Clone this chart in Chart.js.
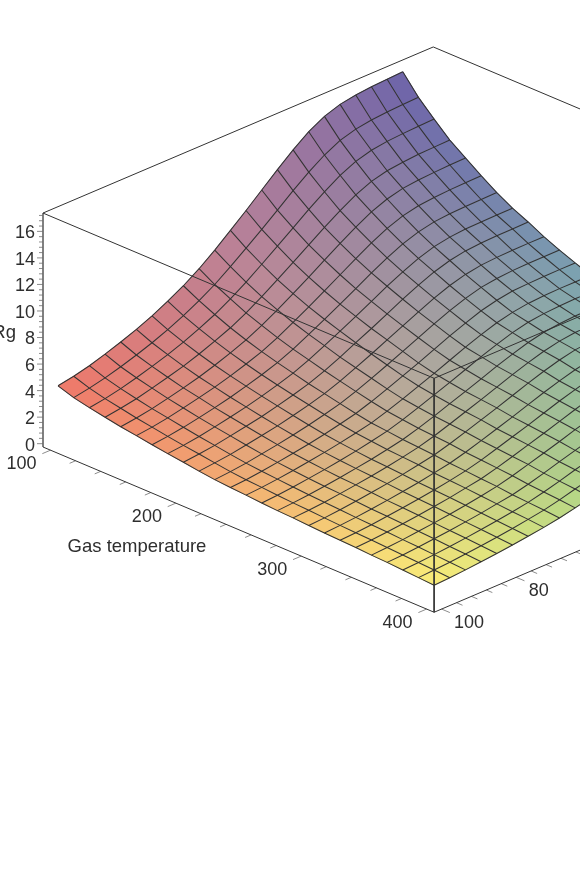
<!DOCTYPE html>
<html>
<head>
<meta charset="utf-8">
<title>Rg surface</title>
<script src="https://cdn.jsdelivr.net/npm/chart.js@4"></script>
<style>
html, body { margin: 0; padding: 0; background: #fff; overflow: hidden; }
canvas { display: block; }
</style>
</head>
<body>
<canvas id="surface" width="580" height="872"></canvas>
<script>
// grid lines of the surface
var gasTemperature = [106, 118.5, 131, 143.5, 156, 168.5, 181, 193.5, 206, 218.5, 231, 243.5, 256, 268.5, 281, 293.5, 306, 318.5, 331, 343.5, 356, 368.5, 381, 393.5, 406];
var pressure = [102, 97.8, 93.6, 89.4, 85.2, 81, 76.8, 72.6, 68.4, 64.2, 60, 55.8, 51.6, 47.4, 43.2, 39, 34.8, 30.6, 26.4, 22.2, 18, 13.8, 9.6];

// one row per gas temperature, one value per pressure. Rows stop just past the right edge of the picture
var rgRows = [
    [4.84, 5.06, 5.35, 5.72, 6.13, 6.58, 7.10, 7.70, 8.36, 9.14, 10.04, 11.02, 12.02, 13.06, 14.10, 15.08, 15.95, 16.60, 17.00, 17.20, 17.32, 17.39, 17.45],
    [4.45, 4.66, 4.93, 5.27, 5.65, 6.07, 6.56, 7.11, 7.73, 8.45, 9.29, 10.18, 11.10, 12.05, 13.01, 13.90, 14.69, 15.29, 15.64, 15.82, 15.92, 15.98, 16.02],
    [4.19, 4.37, 4.62, 4.94, 5.29, 5.67, 6.11, 6.63, 7.19, 7.86, 8.63, 9.47, 10.33, 11.21, 12.10, 12.92, 13.66, 14.21, 14.54, 14.71, 14.79, 14.85, 14.88],
    [3.97, 4.14, 4.36, 4.65, 4.97, 5.31, 5.72, 6.18, 6.69, 7.31, 8.03, 8.81, 9.60, 10.42, 11.24, 12.00, 12.69, 13.20, 13.50, 13.64, 13.73, 13.77, 13.80],
    [3.75, 3.91, 4.11, 4.38, 4.67, 4.99, 5.37, 5.80, 6.27, 6.86, 7.53, 8.25, 9.00, 9.77, 10.53, 11.26, 11.90, 12.37, 12.67, 12.80, 12.87, 12.92, 12.95],
    [3.58, 3.72, 3.91, 4.16, 4.43, 4.72, 5.07, 5.46, 5.89, 6.44, 7.08, 7.76, 8.45, 9.17, 9.88, 10.56, 11.16, 11.60, 11.86, 11.98, 12.05, 12.09, 12.11],
    [3.39, 3.52, 3.70, 3.93, 4.18, 4.46, 4.79, 5.15, 5.56, 6.08, 6.68, 7.32, 7.96, 8.63, 9.31, 9.94, 10.49, 10.89, 11.14, 11.25, 11.30, 11.32, 11.34],
    [3.22, 3.34, 3.51, 3.73, 3.97, 4.23, 4.54, 4.88, 5.27, 5.76, 6.33, 6.92, 7.54, 8.16, 8.80, 9.38, 9.90, 10.28, 10.49, 10.60, 10.63, 10.65, 10.66],
    [3.07, 3.19, 3.34, 3.55, 3.77, 4.01, 4.30, 4.62, 4.97, 5.44, 5.97, 6.55, 7.12, 7.72, 8.32, 8.88, 9.37, 9.73, 9.95, 10.04, 10.09, 10.10, 10.12],
    [2.90, 3.02, 3.16, 3.36, 3.57, 3.80, 4.08, 4.38, 4.72, 5.16, 5.67, 6.20, 6.76, 7.31, 7.87, 8.40, 8.85, 9.18, 9.38, 9.46, 9.49, 9.51, 9.51],
    [2.76, 2.86, 3.00, 3.19, 3.39, 3.61, 3.86, 4.15, 4.47, 4.89, 5.37, 5.87, 6.39, 6.92, 7.46, 7.95, 8.38, 8.70, 8.87, 8.96, 8.99, 9.00, 9.00],
    [2.66, 2.75, 2.88, 3.05, 3.23, 3.43, 3.66, 3.93, 4.22, 4.62, 5.07, 5.55, 6.03, 6.54, 7.05, 7.52, 7.94, 8.23, 8.42, 8.48, 8.52, 8.53, 8.53],
    [2.59, 2.67, 2.79, 2.94, 3.11, 3.30, 3.51, 3.75, 4.01, 4.39, 4.82, 5.28, 5.74, 6.22, 6.70, 7.15, 7.54, 7.82, 7.99, 8.07, 8.10, 8.10, 8.11],
    [2.49, 2.58, 2.69, 2.84, 3.00, 3.18, 3.39, 3.63, 3.89, 4.25, 4.67, 5.11, 5.55, 6.02, 6.49, 6.91, 7.29, 7.57, 7.72, 7.79, 7.83, 7.83, 7.84],
    [2.42, 2.50, 2.61, 2.75, 2.91, 3.09, 3.28, 3.51, 3.76, 4.11, 4.52, 4.95, 5.37, 5.82, 6.27, 6.68, 7.05, 7.32, 7.46, 7.53, 7.57, 7.58],
    [2.37, 2.45, 2.55, 2.69, 2.85, 3.02, 3.21, 3.43, 3.68, 4.02, 4.42, 4.84, 5.25, 5.69, 6.13, 6.53, 6.89, 7.15, 7.29, 7.36, 7.40],
    [2.30, 2.37, 2.48, 2.62, 2.77, 2.94, 3.13, 3.36, 3.59, 3.93, 4.32, 4.73, 5.13, 5.56, 5.99, 6.38, 6.73, 6.99, 7.12, 7.19],
    [2.23, 2.30, 2.40, 2.53, 2.68, 2.84, 3.02, 3.24, 3.47, 3.79, 4.17, 4.56, 4.95, 5.37, 5.78, 6.15, 6.49, 6.74, 6.89],
    [2.18, 2.25, 2.35, 2.48, 2.62, 2.78, 2.95, 3.16, 3.39, 3.70, 4.07, 4.45, 4.83, 5.24, 5.64, 6.00, 6.33, 6.57],
    [2.13, 2.20, 2.30, 2.42, 2.56, 2.71, 2.88, 3.09, 3.30, 3.61, 3.97, 4.34, 4.71, 5.11, 5.50, 5.85, 6.17],
    [2.06, 2.13, 2.22, 2.35, 2.48, 2.63, 2.80, 3.00, 3.22, 3.52, 3.87, 4.23, 4.59, 4.98, 5.36, 5.72],
    [2.01, 2.07, 2.16, 2.28, 2.41, 2.55, 2.71, 2.90, 3.09, 3.38, 3.71, 4.07, 4.42, 4.79, 5.16],
    [1.94, 2.00, 2.09, 2.20, 2.33, 2.47, 2.63, 2.81, 3.01, 3.29, 3.61, 3.96, 4.30, 4.66],
    [1.86, 1.93, 2.01, 2.13, 2.25, 2.39, 2.55, 2.73, 2.93, 3.20, 3.51, 3.85, 4.18],
    [1.79, 1.85, 1.94, 2.05, 2.17, 2.30, 2.46, 2.63, 2.83, 3.09, 3.39, 3.71]
];

// axis ticks
var tempTicks = [100, 120, 140, 160, 180, 200, 220, 240, 260, 280, 300, 320, 340, 360, 380, 400];
var tempLabels = [100, 200, 300, 400];
var pressureTicks = [100, 96, 92, 88, 84, 80, 76, 72, 68, 64, 60];
var pressureLabels = [100, 80];
var rgTicks = [0, 0.4, 0.8, 1.2, 1.6, 2, 2.4, 2.8, 3.2, 3.6, 4, 4.4, 4.8, 5.2, 5.6, 6, 6.4, 6.8, 7.2, 7.6, 8, 8.4, 8.8, 9.2, 9.6, 10, 10.4, 10.8, 11.2, 11.6, 12, 12.4, 12.8, 13.2, 13.6, 14, 14.4, 14.8, 15.2, 15.6, 16, 16.4, 16.8, 17.2];
var rgLabels = [0, 2, 4, 6, 8, 10, 12, 14, 16];

// extent of the box
var tempMin = 94, tempMax = 406;
var pressMax = 102, pressMin = -2.6;
var rgMin = -0.25, rgMax = 17.38;

// oblique view of (temperature, pressure, Rg) on the flat page
function project(t, p, z) {
    var dt = (t - tempMin) * 1.2536;
    var dp = (pressMax - p) * 3.731;
    return {
        x: 43 + dt + dp,
        y: 447 + dt * 0.4225 - dp * 0.4256 - (z - rgMin) * 13.27
    };
}

// surface colours sampled at the corners and edge middles, rows run from high to low pressure
var colourRowHighP = [[240, 120, 105], [246, 180, 113], [251, 238, 120]];
var colourRowMidP = [[185, 128, 152], [180, 170, 155], [172, 213, 135]];
var colourRowLowP = [[108, 98, 170], [122, 163, 177], [100, 195, 160]];

function mixColour(a, b, f) {
    return [a[0] + (b[0] - a[0]) * f, a[1] + (b[1] - a[1]) * f, a[2] + (b[2] - a[2]) * f];
}

function pickFromRow(row, u) {
    return u < 0.5 ? mixColour(row[0], row[1], u * 2) : mixColour(row[1], row[2], (u - 0.5) * 2);
}

function surfaceColour(t, p) {
    var u = (t - gasTemperature[0]) / (gasTemperature[24] - gasTemperature[0]);
    var v = (pressure[0] - p) / (pressure[0] - pressure[22]);
    var hi = pickFromRow(colourRowHighP, u);
    var mid = pickFromRow(colourRowMidP, u);
    var lo = pickFromRow(colourRowLowP, u);
    var c = v < 0.5 ? mixColour(hi, mid, v * 2) : mixColour(mid, lo, (v - 0.5) * 2);
    return "rgb(" + Math.round(c[0]) + "," + Math.round(c[1]) + "," + Math.round(c[2]) + ")";
}

function lineSet(points, colour, width, order) {
    return {
        data: points,
        showLine: true,
        fill: false,
        tension: 0,
        pointRadius: 0,
        borderColor: colour,
        borderWidth: width,
        order: order
    };
}

var datasets = [];

// surface cells
for (var i = 0; i < rgRows.length - 1; i++) {
    for (var j = 0; j < pressure.length - 1; j++) {
        if (rgRows[i + 1][j + 1] === undefined || rgRows[i][j + 1] === undefined) {
            continue;
        }
        var midT = (gasTemperature[i] + gasTemperature[i + 1]) / 2;
        var midP = (pressure[j] + pressure[j + 1]) / 2;
        var cellColour = surfaceColour(midT, midP);
        datasets.push({
            data: [
                project(gasTemperature[i], pressure[j], rgRows[i][j]),
                project(gasTemperature[i + 1], pressure[j], rgRows[i + 1][j]),
                project(gasTemperature[i + 1], pressure[j + 1], rgRows[i + 1][j + 1]),
                project(gasTemperature[i], pressure[j + 1], rgRows[i][j + 1]),
                project(gasTemperature[i], pressure[j], rgRows[i][j])
            ],
            showLine: true,
            fill: "shape",
            tension: 0,
            pointRadius: 0,
            backgroundColor: cellColour,
            borderColor: cellColour,
            borderWidth: 0.8,
            order: 5
        });
    }
}

// mesh lines
var gridColour = "#333333";
for (var r = 0; r < rgRows.length; r++) {
    var alongP = [];
    for (var c = 0; c < rgRows[r].length; c++) {
        alongP.push(project(gasTemperature[r], pressure[c], rgRows[r][c]));
    }
    datasets.push(lineSet(alongP, gridColour, 1.05, 4));
}
for (var c2 = 0; c2 < pressure.length; c2++) {
    var alongT = [];
    for (var r2 = 0; r2 < rgRows.length; r2++) {
        if (rgRows[r2][c2] !== undefined) {
            alongT.push(project(gasTemperature[r2], pressure[c2], rgRows[r2][c2]));
        }
    }
    datasets.push(lineSet(alongT, gridColour, 1.05, 4));
}

// box edges
var boxColour = "#333333";
datasets.push(lineSet([
    project(tempMin, pressMax, rgMin),
    project(tempMax, pressMax, rgMin),
    project(tempMax, pressMin, rgMin)
], boxColour, 1, 2));
datasets.push(lineSet([
    project(tempMin, pressMax, rgMax),
    project(tempMin, pressMin, rgMax),
    project(tempMax, pressMin, rgMax),
    project(tempMax, pressMax, rgMax),
    project(tempMin, pressMax, rgMax)
], boxColour, 1, 2));
datasets.push(lineSet([project(tempMax, pressMax, rgMax), project(tempMax, pressMax, rgMin)], boxColour, 1, 2));
datasets.push(lineSet([project(tempMin, pressMax, rgMax), project(tempMin, pressMax, rgMin)], "#6e6e6e", 1, 2));

// axis ticks
var tickColour = "#8c8c8c";
tempTicks.forEach(function (t) {
    var big = tempLabels.indexOf(t) >= 0;
    datasets.push(lineSet([project(t, pressMax, rgMin), project(t, pressMax + (big ? 2.2 : 1.6), rgMin)], tickColour, 1, 3));
});
pressureTicks.forEach(function (p) {
    var big = pressureLabels.indexOf(p) >= 0;
    datasets.push(lineSet([project(tempMax, p, rgMin), project(tempMax + (big ? 6.6 : 4.8), p, rgMin)], tickColour, 1, 3));
});
rgTicks.forEach(function (z) {
    var on = project(tempMin, pressMax, z);
    var big = rgLabels.indexOf(z) >= 0;
    datasets.push(lineSet([on, { x: on.x - (big ? 6 : 4), y: on.y }], tickColour, 1, 3));
});

// axis labels, placed from the same scales as the marks
var axisText = {
    id: "axisText",
    afterDraw: function (chart) {
        var ctx = chart.ctx;
        var sx = chart.scales.x, sy = chart.scales.y;
        function put(text, pos, dx, dy, align) {
            ctx.textAlign = align;
            ctx.fillText(String(text), sx.getPixelForValue(pos.x) + dx, sy.getPixelForValue(pos.y) + dy);
        }
        ctx.save();
        ctx.fillStyle = "#2e2e2e";
        ctx.textBaseline = "middle";
        ctx.font = "18px 'Liberation Sans'";
        rgLabels.forEach(function (z) {
            put(z, project(tempMin, pressMax, z), -8, 2, "right");
        });
        tempLabels.forEach(function (t) {
            put(t, project(t, pressMax, rgMin), -29, 13.5, "center");
        });
        pressureLabels.forEach(function (p) {
            put(p, project(tempMax, p, rgMin), 12.5, 13.5, "left");
        });
        ctx.font = "18.5px 'Liberation Sans'";
        put("Gas temperature", project(tempMin, pressMax, rgMin), 94, 99.5, "center");
        put("Rg", project(tempMin, pressMax, rgMin), -27, -114, "right");
        ctx.restore();
    }
};

new Chart(document.getElementById("surface"), {
    type: "scatter",
    data: { datasets: datasets },
    plugins: [axisText],
    options: {
        responsive: false,
        animation: false,
        layout: { padding: 0 },
        scales: {
            x: { type: "linear", display: false, min: 0, max: 580 },
            y: { type: "linear", display: false, min: 0, max: 872, reverse: true }
        },
        plugins: {
            legend: { display: false },
            tooltip: { enabled: false }
        },
        events: []
    }
});
</script>
</body>
</html>
